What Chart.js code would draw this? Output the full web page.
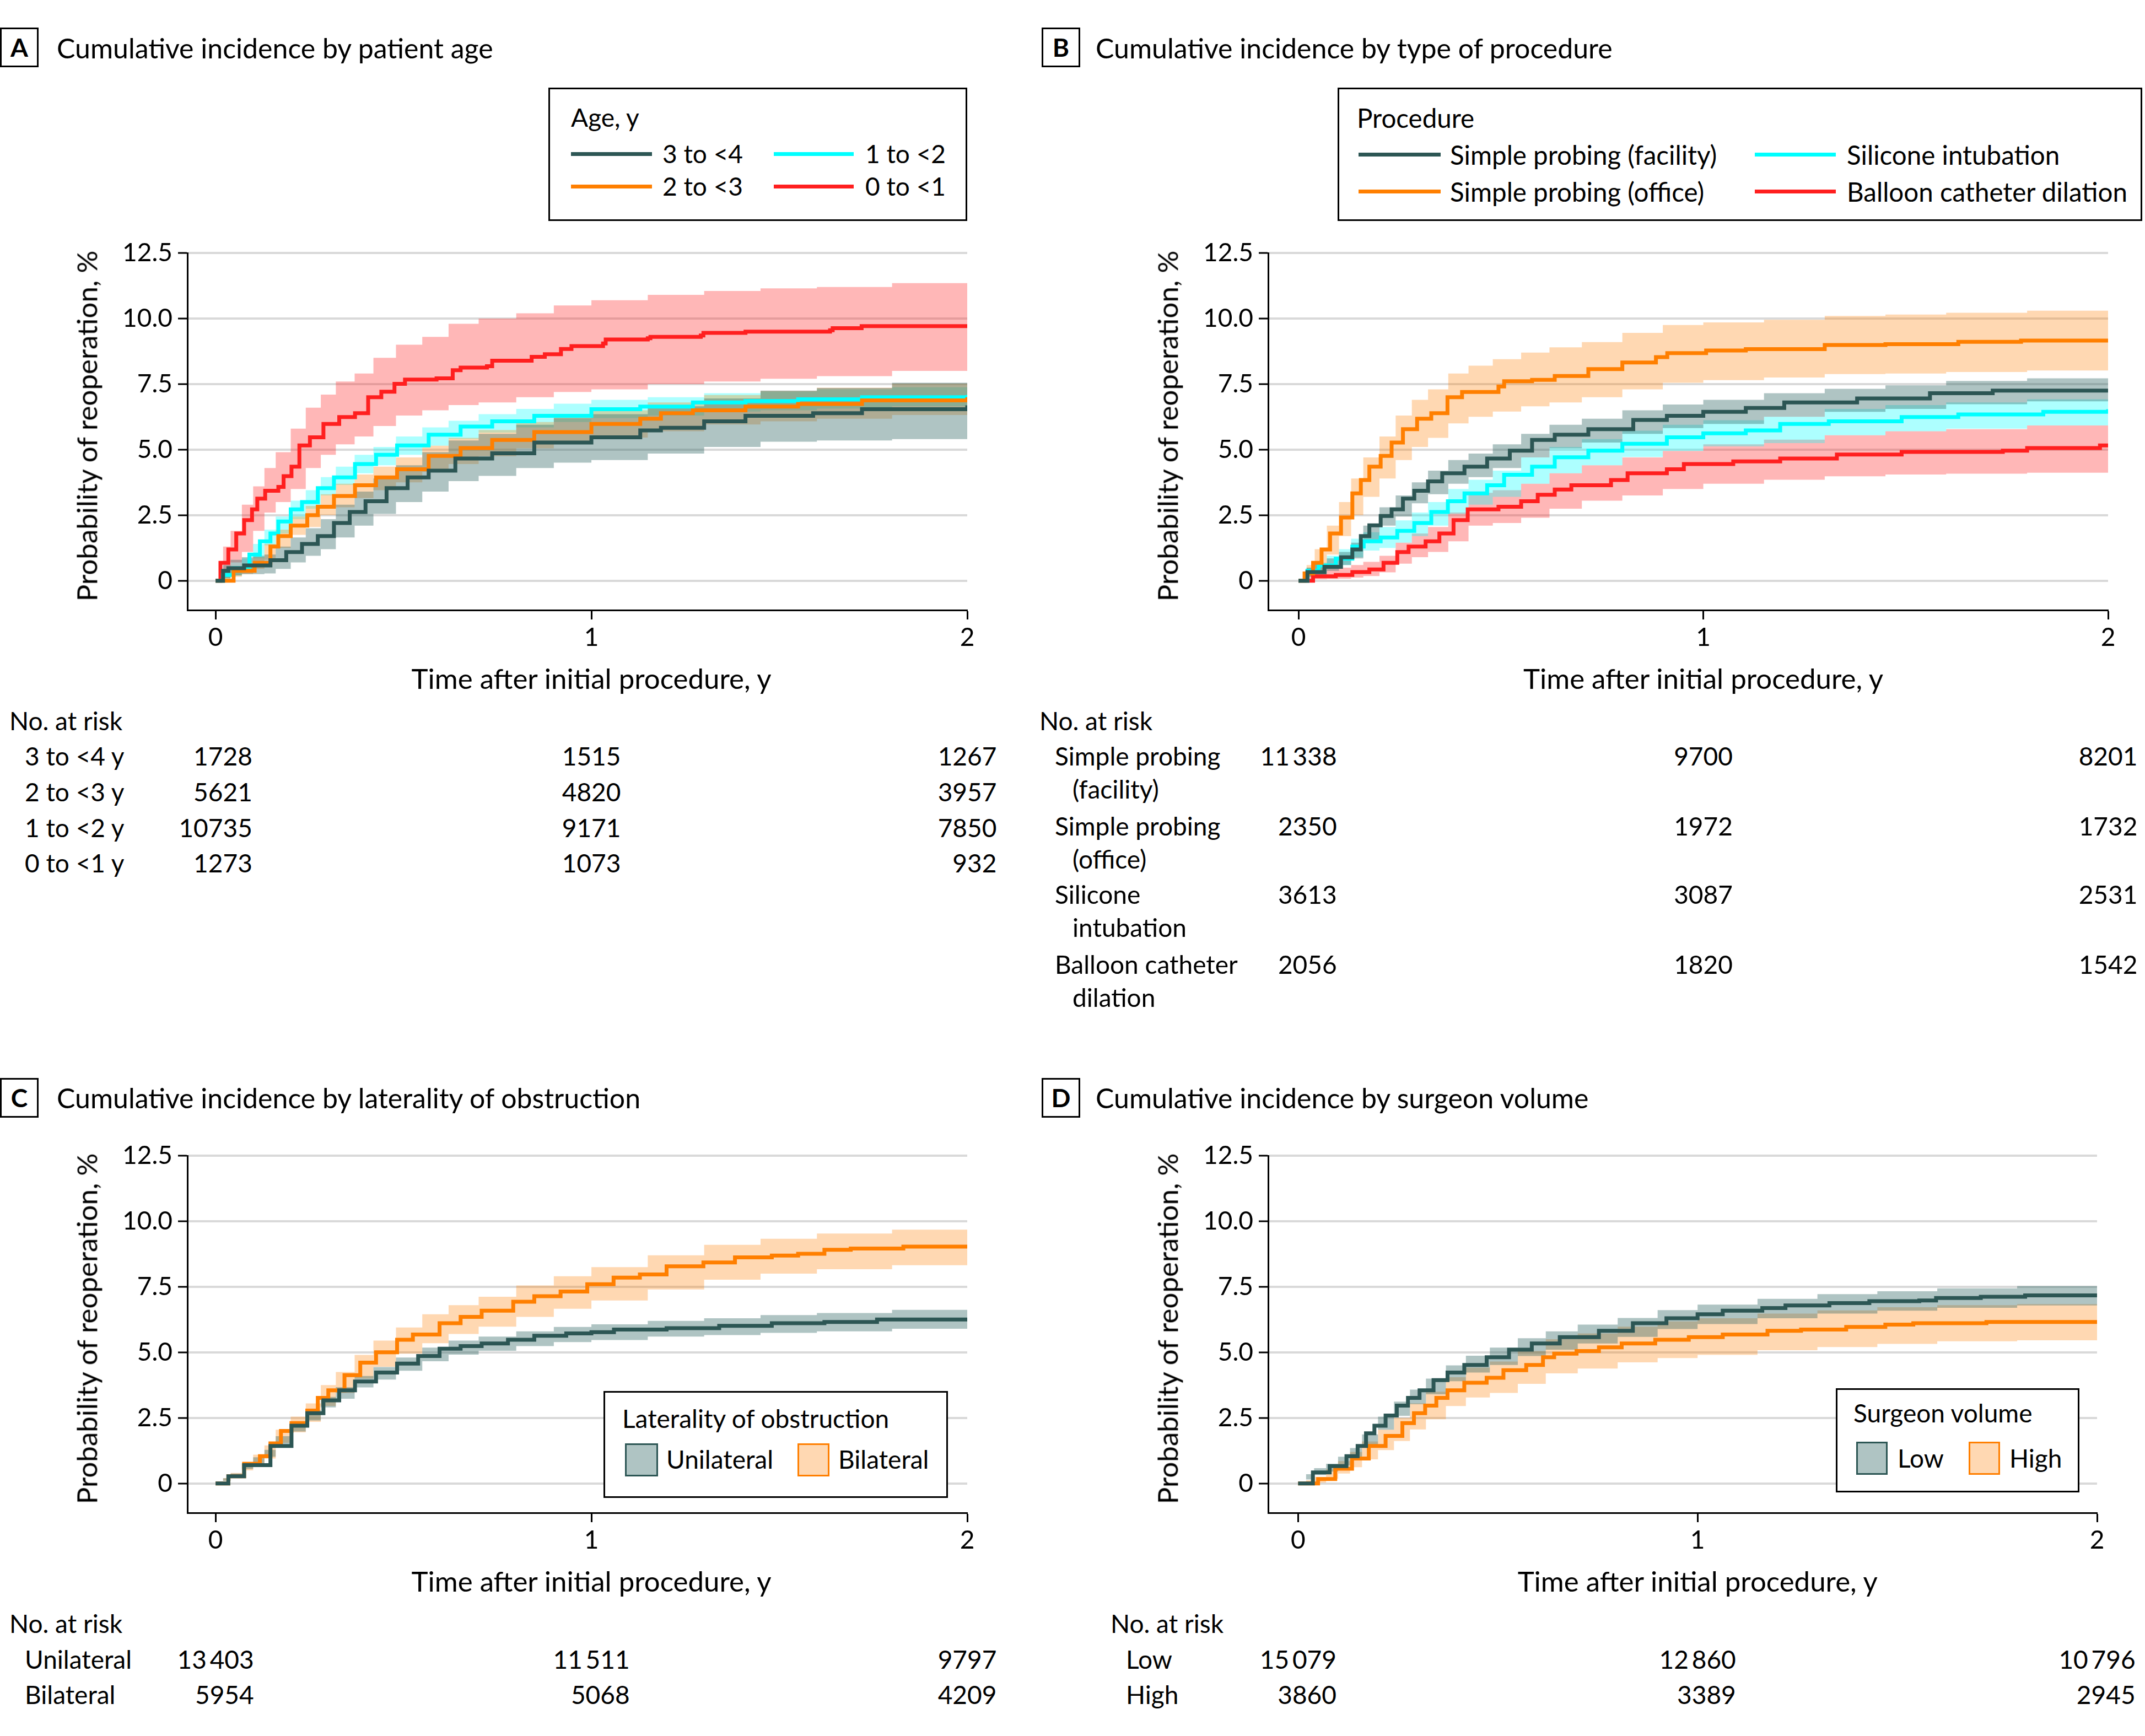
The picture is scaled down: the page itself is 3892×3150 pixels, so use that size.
<!DOCTYPE html>
<html><head><meta charset="utf-8">
<script src="https://cdn.jsdelivr.net/npm/chart.js@4.4.1/dist/chart.umd.min.js"></script>
<style>
html,body{margin:0;padding:0;background:#fff}
body{width:3892px;height:3150px;position:relative;overflow:hidden;font-family:Lato,"Noto Sans",sans-serif;color:#000}
.abs{position:absolute;white-space:nowrap}
canvas{position:absolute}
.box{position:absolute;border:3px solid #000;box-sizing:border-box;background:#fff}
</style></head><body>
<script>
// ---------- DATA ----------
// band (confidence interval) time grid
const T = [0,0.02,0.04,0.07,0.10,0.13,0.16,0.20,0.24,0.28,0.32,0.37,0.42,0.48,0.55,0.62,0.70,0.80,0.90,1.00,1.15,1.30,1.45,1.60,1.80,2.00];
const xTickVals = [0,1,2];
const yTickVals = [0,2.5,5,7.5,10,12.5];
const riskTimes = [0,1,2];

// Panel A: age
const ageLabels = ['3 to <4','2 to <3','1 to <2','0 to <1'];
const a34T   = [0,0.02,0.034,0.076,0.146,0.188,0.23,0.272,0.315,0.357,0.399,0.455,0.511,0.567,0.638,0.736,0.848,1.0,1.13,1.185,1.3,1.41,1.59,1.72,2.0];
const a34Est = [0,0.38,0.48,0.58,0.78,1.09,1.4,1.7,2.2,2.62,3.03,3.53,3.94,4.2,4.66,4.86,5.27,5.47,5.73,5.83,6.08,6.29,6.39,6.54,6.69];
const a34Hi  = [0,0.6,0.8,0.9,0.95,1.0,1.3,1.65,2.0,2.35,2.9,3.4,3.9,4.4,4.9,5.35,5.6,5.95,6.2,6.35,6.65,6.95,7.25,7.35,7.55,7.75];
const a34Lo  = [0,0.1,0.2,0.25,0.25,0.28,0.45,0.7,0.95,1.2,1.65,2.1,2.55,3.0,3.4,3.8,4.0,4.3,4.5,4.6,4.85,5.1,5.3,5.35,5.4,5.45];
const a23T   = [0,0.048,0.104,0.146,0.167,0.2,0.244,0.272,0.315,0.371,0.427,0.483,0.567,0.652,0.736,0.848,1.0,1.13,1.185,1.27,1.41,1.55,1.72,2.0];
const a23Est = [0,0.38,0.68,1.3,1.7,2.1,2.5,2.82,3.23,3.64,3.94,4.25,4.76,5.06,5.37,5.67,5.98,6.18,6.39,6.5,6.64,6.74,6.88,7.0];
const a23Hi  = [0,0.25,0.45,0.65,0.9,1.4,1.95,2.45,2.85,3.3,3.7,4.05,4.35,4.7,5.15,5.45,5.75,6.05,6.3,6.5,6.8,7.08,7.24,7.36,7.52,7.62];
const a23Lo  = [0,0.05,0.15,0.25,0.45,0.8,1.25,1.75,2.05,2.5,2.8,3.15,3.45,3.75,4.15,4.45,4.75,5.05,5.3,5.46,5.7,5.96,6.08,6.18,6.32,6.38];
const a12T   = [0,0.02,0.048,0.09,0.118,0.146,0.167,0.2,0.23,0.272,0.315,0.371,0.427,0.483,0.567,0.652,0.736,0.848,1.0,1.13,1.27,1.41,1.55,1.72,2.0];
const a12Est = [0,0.22,0.48,1.0,1.5,1.8,2.26,2.72,3.0,3.53,3.94,4.45,4.8,5.16,5.57,5.88,6.08,6.29,6.54,6.64,6.8,6.85,6.92,7.0,7.08];
const a12Hi  = [0,0.35,0.55,0.85,1.4,1.95,2.45,3.05,3.45,3.95,4.35,4.8,5.1,5.5,5.85,6.1,6.35,6.55,6.75,6.9,7.0,7.15,7.22,7.3,7.38,7.45];
const a12Lo  = [0,0.08,0.2,0.4,0.85,1.35,1.8,2.35,2.75,3.25,3.65,4.1,4.4,4.8,5.15,5.4,5.65,5.85,6.05,6.2,6.3,6.45,6.5,6.56,6.65,6.7];
const a01T   = [0,0.013,0.034,0.055,0.076,0.097,0.111,0.132,0.167,0.181,0.202,0.223,0.251,0.287,0.329,0.371,0.406,0.441,0.476,0.504,0.588,0.631,0.652,0.722,0.736,0.841,0.876,0.919,0.947,1.031,1.038,1.15,1.157,1.291,1.298,1.41,1.635,1.642,1.719,2.0];
const a01Est = [0,0.68,1.19,1.80,2.31,2.72,3.13,3.43,3.58,3.99,4.35,5.16,5.47,5.98,6.24,6.39,7.00,7.21,7.51,7.67,7.72,8.03,8.13,8.18,8.39,8.54,8.64,8.84,8.95,9.05,9.2,9.25,9.30,9.35,9.45,9.5,9.55,9.63,9.71,9.74];
const a01Hi  = [0,1.3,1.9,2.9,3.6,4.3,4.9,5.8,6.6,7.1,7.6,7.9,8.5,9.0,9.3,9.8,10.0,10.2,10.5,10.7,10.9,11.05,11.15,11.2,11.35,11.35];
const a01Lo  = [0,0.3,0.7,1.1,1.9,2.6,3.0,3.5,4.3,4.8,5.2,5.5,5.9,6.3,6.5,6.7,6.8,7.0,7.2,7.3,7.5,7.6,7.7,7.8,8.0,8.05];
const riskALabels = ['3 to <4 y','2 to <3 y','1 to <2 y','0 to <1 y'];
const riskA = [['1728','1515','1267'],['5621','4820','3957'],['10735','9171','7850'],['1273','1073','932']];

// Panel B: procedure
const procLabels = ['Simple probing (facility)','Simple probing (office)','Silicone intubation','Balloon catheter dilation'];
const pFacT   = [0,0.022,0.064,0.105,0.133,0.154,0.175,0.203,0.23,0.258,0.286,0.32,0.355,0.41,0.466,0.522,0.577,0.633,0.716,0.827,0.91,1.0,1.105,1.2,1.38,1.56,1.715,2.0];
const pFacEst = [0,0.33,0.53,0.89,1.19,1.7,2.11,2.47,2.72,3.13,3.43,3.79,4.1,4.35,4.66,4.96,5.37,5.57,5.78,6.13,6.29,6.44,6.59,6.8,6.95,7.15,7.25,7.32];
const pFacHi  = [0,0.5,0.65,0.85,1.1,1.45,2.1,2.8,3.25,3.75,4.2,4.6,4.85,5.2,5.6,5.95,6.18,6.5,6.72,6.9,7.15,7.32,7.45,7.62,7.72,7.76];
const pFacLo  = [0,0.15,0.22,0.38,0.6,0.85,1.5,2.1,2.45,2.95,3.3,3.7,3.95,4.3,4.7,5.05,5.27,5.6,5.82,5.98,6.25,6.44,6.55,6.73,6.84,6.88];
const pOffT   = [0,0.015,0.036,0.057,0.078,0.105,0.133,0.154,0.175,0.203,0.23,0.258,0.293,0.328,0.368,0.404,0.494,0.508,0.577,0.633,0.716,0.8,0.883,0.911,1.007,1.105,1.3,1.45,1.63,1.785,2.0];
const pOffEst = [0,0.28,0.68,1.19,1.8,2.41,3.33,3.84,4.35,4.76,5.27,5.78,6.18,6.39,7.0,7.2,7.41,7.61,7.66,7.81,8.07,8.32,8.53,8.68,8.78,8.83,8.99,9.02,9.11,9.16,9.16];
const pOffHi  = [0,0.6,1.2,2.1,3.0,3.9,4.7,5.5,6.3,6.9,7.3,7.9,8.2,8.45,8.7,8.9,9.1,9.45,9.75,9.85,9.95,10.1,10.15,10.22,10.3,10.3];
const pOffLo  = [0,0.15,0.4,1.0,1.7,2.5,3.2,3.9,4.6,5.1,5.45,6.0,6.25,6.45,6.65,6.8,7.0,7.3,7.55,7.65,7.75,7.88,7.9,7.96,8.02,8.02];
const pSilT   = [0,0.022,0.05,0.092,0.133,0.161,0.203,0.244,0.286,0.328,0.369,0.41,0.466,0.508,0.577,0.633,0.716,0.8,0.91,1.0,1.105,1.19,1.31,1.49,1.63,1.84,2.0];
const pSilEst = [0,0.38,0.58,0.84,1.3,1.5,1.65,1.9,2.2,2.62,3.03,3.33,3.64,4.04,4.35,4.71,4.96,5.22,5.47,5.62,5.73,5.98,6.08,6.24,6.34,6.44,6.54];
const pSilHi  = [0,0.5,0.7,0.95,1.2,1.6,1.85,2.05,2.3,2.6,3.0,3.5,3.85,4.2,4.7,5.1,5.4,5.72,5.95,6.12,6.25,6.55,6.7,6.8,6.92,7.04];
const pSilLo  = [0,0.2,0.3,0.45,0.6,0.9,1.15,1.25,1.45,1.7,2.1,2.55,2.9,3.2,3.7,4.1,4.4,4.72,4.95,5.12,5.25,5.55,5.7,5.8,5.92,6.04];
const pBalT   = [0,0.036,0.092,0.133,0.175,0.21,0.244,0.272,0.314,0.348,0.383,0.418,0.494,0.55,0.591,0.633,0.674,0.772,0.813,0.91,0.952,1.074,1.19,1.33,1.49,1.74,1.8,1.98,2.0];
const pBalEst = [0,0.17,0.22,0.33,0.43,0.68,1.09,1.3,1.5,1.8,2.31,2.72,2.82,3.03,3.28,3.48,3.64,3.84,4.1,4.25,4.45,4.55,4.66,4.81,4.91,4.96,5.06,5.16,5.16];
const pBalHi  = [0,0.2,0.4,0.45,0.5,0.6,0.72,0.95,1.45,1.8,2.05,2.6,3.35,3.45,3.7,4.1,4.4,4.7,4.95,5.2,5.38,5.55,5.7,5.78,5.92,6.05];
const pBalLo  = [0,0,0.05,0.07,0.08,0.12,0.18,0.32,0.65,0.9,1.1,1.5,2.1,2.2,2.4,2.75,3.05,3.25,3.5,3.7,3.85,3.98,4.05,4.08,4.12,4.15];
const riskBLabels = [['Simple probing','(facility)'],['Simple probing','(office)'],['Silicone','intubation'],['Balloon catheter','dilation']];
const riskB = [['11\u2009338','9700','8201'],['2350','1972','1732'],['3613','3087','2531'],['2056','1820','1542']];

// Panel C: laterality
const latLabels = ['Unilateral','Bilateral'];
const lUniT   = [0,0.034,0.076,0.146,0.202,0.244,0.287,0.329,0.371,0.427,0.483,0.539,0.596,0.652,0.708,0.778,0.848,0.933,1.0,1.06,1.2,1.34,1.48,1.62,1.76,2.0];
const lUniEst = [0,0.27,0.7,1.43,2.2,2.68,3.17,3.55,3.89,4.23,4.57,4.86,5.14,5.24,5.34,5.48,5.63,5.72,5.77,5.87,5.92,6.01,6.11,6.16,6.25,6.3];
const lUniHi  = [0,0.2,0.38,0.75,1.0,1.28,1.8,2.32,2.8,3.3,3.67,4.1,4.44,4.8,5.18,5.45,5.6,5.8,5.97,6.07,6.2,6.3,6.42,6.5,6.62,6.68];
const lUniLo  = [0,0.1,0.22,0.55,0.76,1.02,1.5,1.98,2.4,2.9,3.23,3.66,3.96,4.3,4.66,4.91,5.06,5.24,5.39,5.47,5.6,5.66,5.74,5.8,5.9,5.92];
const lBilT   = [0,0.034,0.076,0.118,0.146,0.174,0.202,0.244,0.272,0.3,0.343,0.385,0.427,0.483,0.525,0.596,0.652,0.708,0.792,0.848,0.918,0.989,1.059,1.129,1.2,1.298,1.382,1.48,1.55,1.62,1.69,1.83,2.0];
const lBilEst = [0,0.27,0.75,1.04,1.53,2.0,2.3,2.78,3.26,3.55,4.13,4.61,5.0,5.48,5.68,6.11,6.35,6.59,6.93,7.14,7.32,7.6,7.85,7.97,8.28,8.43,8.62,8.69,8.76,8.91,8.96,9.03,9.1];
const lBilHi  = [0,0.2,0.4,0.8,1.1,1.45,2.05,2.55,3.05,3.75,4.25,4.9,5.45,5.95,6.45,6.8,7.12,7.55,7.9,8.25,8.7,9.1,9.33,9.53,9.68,9.8];
const lBilLo  = [0,0.1,0.2,0.5,0.7,0.95,1.55,1.95,2.35,2.95,3.45,4.0,4.45,4.95,5.35,5.7,5.98,6.35,6.66,6.98,7.4,7.77,8.0,8.17,8.32,8.4];
const riskCLabels = ['Unilateral','Bilateral'];
const riskC = [['13\u2009403','11\u2009511','9797'],['5954','5068','4209']];

// Panel D: surgeon volume
const volLabels = ['Low','High'];
const vLowT   = [0,0.037,0.079,0.121,0.149,0.17,0.191,0.219,0.247,0.275,0.304,0.339,0.374,0.416,0.472,0.528,0.585,0.655,0.753,0.838,0.922,1.0,1.063,1.162,1.22,1.33,1.43,1.555,1.597,1.709,1.82,2.0];
const vLowEst = [0,0.42,0.66,1.04,1.43,1.91,2.2,2.59,2.97,3.26,3.55,3.94,4.23,4.52,4.81,5.1,5.34,5.58,5.82,6.11,6.3,6.45,6.59,6.69,6.79,6.88,6.95,6.98,7.07,7.12,7.17,7.22];
const vLowHi  = [0,0.35,0.58,0.75,1.02,1.35,1.87,2.55,3.12,3.58,4.0,4.5,4.87,5.18,5.54,5.8,6.06,6.31,6.61,6.82,7.04,7.22,7.33,7.44,7.53,7.6];
const vLowLo  = [0,0.15,0.32,0.45,0.68,0.95,1.43,2.05,2.58,3.02,3.4,3.9,4.23,4.52,4.86,5.1,5.34,5.59,5.89,6.08,6.3,6.48,6.59,6.7,6.79,6.85];
const vHighT   = [0,0.05,0.093,0.135,0.177,0.219,0.261,0.29,0.318,0.346,0.374,0.416,0.472,0.514,0.571,0.613,0.641,0.697,0.753,0.81,0.894,0.978,1.063,1.175,1.259,1.372,1.47,1.54,1.723,2.0];
const vHighEst = [0,0.17,0.56,0.95,1.43,1.81,2.3,2.68,2.97,3.26,3.55,3.84,4.03,4.32,4.52,4.81,4.95,5.05,5.19,5.34,5.48,5.58,5.68,5.82,5.87,5.97,6.06,6.11,6.16,6.16];
const vHighHi  = [0,0.12,0.25,0.55,0.85,1.2,1.6,2.05,2.5,3.05,3.5,4.05,4.42,4.65,5.05,5.5,5.72,5.98,6.18,6.3,6.48,6.6,6.72,6.8,6.84,6.84];
const vHighLo  = [0,0,0.03,0.18,0.38,0.62,0.92,1.27,1.62,2.06,2.45,2.95,3.28,3.45,3.8,4.2,4.38,4.62,4.78,4.9,5.08,5.2,5.32,5.42,5.46,5.46];
const riskDLabels = ['Low','High'];
const riskD = [['15\u2009079','12\u2009860','10\u2009796'],['3860','3389','2945']];

// ---------- STYLE ----------
const FONT = 'Lato, "Noto Sans", sans-serif';
const C_TEAL = '#2c5654', C_ORANGE = '#ff7f00', C_CYAN = '#00ffff', C_RED = '#ff1f1f';
const B_TEAL = 'rgba(44,100,98,0.38)', B_ORANGE = 'rgba(255,127,0,0.30)', B_CYAN = 'rgba(0,255,255,0.32)', B_RED = 'rgba(255,30,30,0.32)';
const TICK = 46, TXT = 46, AXT = 51, TITLE = 50, LEGB = 47.5;

function txt(s, x, cy, size, o = {}) {
  const d = document.createElement('div');
  d.className = 'abs';
  d.textContent = s;
  d.style.fontSize = size + 'px';
  d.style.lineHeight = (size * 1.2) + 'px';
  d.style.left = x + 'px';
  d.style.top = (cy - size * 0.6) + 'px';
  if (o.bold) d.style.fontWeight = 'bold';
  if (o.align === 'center') d.style.transform = 'translateX(-50%)';
  if (o.rotate) { d.style.top = cy + 'px'; d.style.transform = 'translate(-50%,-50%) rotate(-90deg)'; }
  document.body.appendChild(d);
  return d;
}
function rect(x, y, w, h, bg, border) {
  const d = document.createElement('div');
  d.className = 'box';
  Object.assign(d.style, {left: x + 'px', top: y + 'px', width: w + 'px', height: h + 'px'});
  if (bg) d.style.background = bg;
  if (border) d.style.borderColor = border;
  if (border === 'none') d.style.border = 'none';
  document.body.appendChild(d);
  return d;
}

function panel(g, series) {
  const c = document.createElement('canvas');
  c.width = g.w; c.height = g.h;
  Object.assign(c.style, {left: g.x + 'px', top: g.y + 'px', width: g.w + 'px', height: g.h + 'px'});
  document.body.appendChild(c);
  const pts = (ts, arr) => ts.map((t, k) => ({x: t, y: arr[k]}));
  const datasets = [];
  series.forEach((s, i) => {
    datasets.push({data: pts(T, s.lo), borderColor: 'transparent', borderWidth: 1, pointRadius: 0, stepped: true, fill: false, order: 10 + i});
    datasets.push({data: pts(T, s.hi), borderColor: 'transparent', borderWidth: 1, pointRadius: 0, stepped: true, fill: '-1', backgroundColor: s.band, order: 10 + i});
    datasets.push({data: pts(s.t, s.est), borderColor: s.color, borderWidth: 7, pointRadius: 0, stepped: true, fill: false, order: s.z});
  });
  return new Chart(c, {
    type: 'line',
    data: {datasets},
    options: {
      responsive: false, animation: false, devicePixelRatio: 1,
      layout: {padding: {left: 0, top: g.plotTop - g.y, right: g.x + g.w - g.plotRight, bottom: 0}},
      plugins: {legend: {display: false}, tooltip: {enabled: false}},
      scales: {
        x: {
          type: 'linear', min: -0.075, max: 2,
          afterBuildTicks: a => { a.ticks = xTickVals.map(v => ({value: v})); },
          afterFit: s => { s.height = g.y + g.h - g.plotBottom; },
          ticks: {color: '#000', font: {family: FONT, size: TICK}, padding: 6, maxRotation: 0, callback: v => String(v)},
          grid: {drawOnChartArea: false, drawTicks: true, tickLength: 17, tickWidth: 3, tickColor: '#000'},
          border: {display: true, color: '#000', width: 3}
        },
        y: {
          type: 'linear', min: -1.12, max: 12.5,
          afterBuildTicks: a => { a.ticks = yTickVals.map(v => ({value: v})); },
          afterFit: s => { s.width = g.plotLeft - g.x; },
          ticks: {color: '#000', font: {family: FONT, size: TICK}, padding: 10, callback: v => v === 0 ? '0' : v.toFixed(1)},
          grid: {color: '#d9d9d9', lineWidth: 4, drawTicks: true, tickLength: 17, tickWidth: 3, tickColor: '#000'},
          border: {display: true, color: '#000', width: 3}
        }
      }
    }
  });
}

function riskNumbers(chart, g, rowsY, values) {
  riskTimes.forEach((tv, j) => {
    const els = values.map((row, i) => txt(row[j], 0, rowsY[i], TXT));
    const ws = els.map(e => e.getBoundingClientRect().width);
    const maxW = Math.max(...ws);
    const px = g.x + chart.scales.x.getPixelForValue(tv);
    els.forEach((e, i) => { e.style.left = (px + maxW / 2 - ws[i]) + 'px'; });
  });
}

// ---------- PANELS ----------
const gA = {x: 0, y: 0, w: 1800, h: 1267, plotLeft: 340, plotRight: 1755, plotTop: 459, plotBottom: 1107};
const gB = {x: 1946, y: 0, w: 1900, h: 1267, plotLeft: 2301, plotRight: 3825, plotTop: 459, plotBottom: 1107};
const gC = {x: 0, y: 1640, w: 1800, h: 1266, plotLeft: 340, plotRight: 1755, plotTop: 2097, plotBottom: 2745};
const gD = {x: 1946, y: 1640, w: 1900, h: 1266, plotLeft: 2301, plotRight: 3805, plotTop: 2097, plotBottom: 2745};

const chA = panel(gA, [
  {t: a34T, est: a34Est, lo: a34Lo, hi: a34Hi, color: C_TEAL, band: B_TEAL, z: 1},
  {t: a23T, est: a23Est, lo: a23Lo, hi: a23Hi, color: C_ORANGE, band: B_ORANGE, z: 2},
  {t: a12T, est: a12Est, lo: a12Lo, hi: a12Hi, color: C_CYAN, band: B_CYAN, z: 3},
  {t: a01T, est: a01Est, lo: a01Lo, hi: a01Hi, color: C_RED, band: B_RED, z: 4}
]);
const chB = panel(gB, [
  {t: pFacT, est: pFacEst, lo: pFacLo, hi: pFacHi, color: C_TEAL, band: B_TEAL, z: 1},
  {t: pOffT, est: pOffEst, lo: pOffLo, hi: pOffHi, color: C_ORANGE, band: B_ORANGE, z: 2},
  {t: pSilT, est: pSilEst, lo: pSilLo, hi: pSilHi, color: C_CYAN, band: B_CYAN, z: 3},
  {t: pBalT, est: pBalEst, lo: pBalLo, hi: pBalHi, color: C_RED, band: B_RED, z: 4}
]);
const chC = panel(gC, [
  {t: lUniT, est: lUniEst, lo: lUniLo, hi: lUniHi, color: C_TEAL, band: B_TEAL, z: 1},
  {t: lBilT, est: lBilEst, lo: lBilLo, hi: lBilHi, color: C_ORANGE, band: B_ORANGE, z: 2}
]);
const chD = panel(gD, [
  {t: vLowT, est: vLowEst, lo: vLowLo, hi: vLowHi, color: C_TEAL, band: B_TEAL, z: 1},
  {t: vHighT, est: vHighEst, lo: vHighLo, hi: vHighHi, color: C_ORANGE, band: B_ORANGE, z: 2}
]);

// ---------- HEADERS ----------
[[0, 50, 'A', 103, 87, 'Cumulative incidence by patient age'],
 [1890, 50, 'B', 1988, 87, 'Cumulative incidence by type of procedure'],
 [0, 1956, 'C', 103, 1992, 'Cumulative incidence by laterality of obstruction'],
 [1890, 1956, 'D', 1988, 1992, 'Cumulative incidence by surgeon volume']].forEach(h => {
  rect(h[0], h[1], 70, 72);
  txt(h[2], h[0] + 35, h[1] + 36, 46, {bold: true, align: 'center'});
  txt(h[5], h[3], h[4], TITLE);
});

// ---------- AXIS TITLES ----------
[[gA, chA, 773, 1231], [gB, chB, 773, 1231], [gC, chC, 2411, 2869], [gD, chD, 2411, 2869]].forEach(([g, ch, yc, xc]) => {
  txt('Probability of reoperation, %', g.plotLeft - 183, yc, AXT, {rotate: true});
  txt('Time after initial procedure, y', g.x + ch.scales.x.getPixelForValue(1), xc, AXT, {align: 'center'});
});

// ---------- LEGENDS ----------
function lineItem(x, cy, w, color, label, tx, size) {
  rect(x, cy - 3.5, w, 7, color, 'none');
  txt(label, tx, cy, size);
}
rect(995, 159, 760, 242);
txt('Age, y', 1036, 213, TXT);
lineItem(1036, 279, 147, C_TEAL, ageLabels[0], 1202, TXT);
lineItem(1036, 338, 147, C_ORANGE, ageLabels[1], 1202, TXT);
lineItem(1404, 279, 145, C_CYAN, ageLabels[2], 1570, TXT);
lineItem(1404, 338, 145, C_RED, ageLabels[3], 1570, TXT);

rect(2427, 159, 1460, 242);
txt('Procedure', 2462, 213, LEGB);
lineItem(2465, 280, 149, C_TEAL, procLabels[0], 2631, LEGB);
lineItem(2465, 347, 149, C_ORANGE, procLabels[1], 2631, LEGB);
lineItem(3184, 280, 147, C_CYAN, procLabels[2], 3351, LEGB);
lineItem(3184, 347, 147, C_RED, procLabels[3], 3351, LEGB);

rect(1095, 2524, 625, 194);
txt('Laterality of obstruction', 1129, 2574, TXT);
rect(1134, 2619, 60, 60, B_TEAL, C_TEAL); txt(latLabels[0], 1209, 2648, TXT);
rect(1447, 2619, 58, 60, B_ORANGE, C_ORANGE); txt(latLabels[1], 1521, 2648, TXT);

rect(3331, 2519, 442, 189);
txt('Surgeon volume', 3363, 2564, TXT);
rect(3368, 2616, 57, 60, B_TEAL, C_TEAL); txt(volLabels[0], 3443, 2646, TXT);
rect(3572, 2616, 57, 60, B_ORANGE, C_ORANGE); txt(volLabels[1], 3646, 2646, TXT);

// ---------- RISK TABLES ----------
txt('No. at risk', 17, 1308, TXT);
const rowsA = [1372, 1437, 1502, 1566];
riskALabels.forEach((l, i) => txt(l, 45, rowsA[i], TXT));
riskNumbers(chA, gA, rowsA, riskA);

txt('No. at risk', 1886, 1308, TXT);
const rowsB = [1372, 1499, 1623, 1750];
riskBLabels.forEach((l, i) => { txt(l[0], 1914, rowsB[i], TXT); txt(l[1], 1946, rowsB[i] + 60, TXT); });
riskNumbers(chB, gB, rowsB, riskB);

txt('No. at risk', 17, 2946, TXT);
const rowsC = [3011, 3075];
riskCLabels.forEach((l, i) => txt(l, 45, rowsC[i], TXT));
riskNumbers(chC, gC, rowsC, riskC);

txt('No. at risk', 2015, 2946, TXT);
const rowsD = [3011, 3075];
riskDLabels.forEach((l, i) => txt(l, 2043, rowsD[i], TXT));
riskNumbers(chD, gD, rowsD, riskD);
</script>
</body></html>
